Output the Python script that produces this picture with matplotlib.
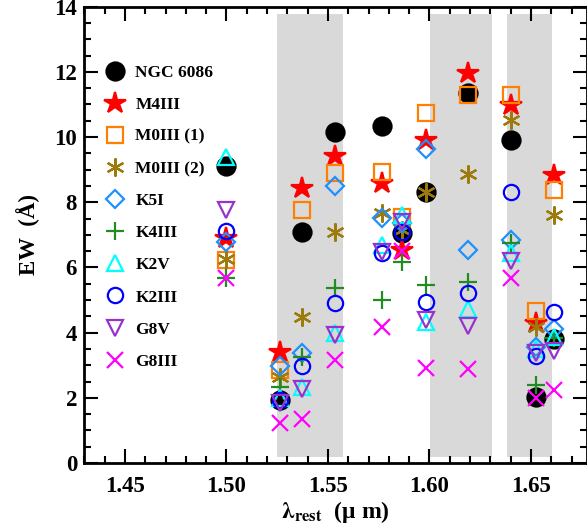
import matplotlib
matplotlib.use('Agg')
import matplotlib.pyplot as plt
from matplotlib.ticker import MultipleLocator

plt.rcParams['font.family'] = 'Liberation Serif'
plt.rcParams['font.weight'] = 'bold'
plt.rcParams['axes.labelweight'] = 'bold'
plt.rcParams['mathtext.fontset'] = 'stix'

# wavelength of each index (micron)
wave = [1.500, 1.5264, 1.5373, 1.5534, 1.5765, 1.5863, 1.5981, 1.6191, 1.6401, 1.6525, 1.6613]

ngc6086 = [9.12, 1.93, 7.10, 10.15, 10.34, 7.05, 8.30, 11.36, 9.91, 2.04, 3.79]
m4iii = [6.89, 3.42, 8.43, 9.42, 8.58, 6.52, 9.91, 11.97, 10.98, 4.30, 8.83]
m0iii_1 = [6.23, 2.85, 7.76, 8.91, 8.94, 7.55, 10.73, 11.29, 11.29, 4.67, 8.37]
m0iii_2 = [6.25, 2.65, 4.49, 7.10, 7.66, 7.15, 8.32, 8.87, 10.52, 4.18, 7.61]
k5i = [6.77, 2.98, 3.36, 8.50, 7.51, 7.35, 9.63, 6.53, 6.84, 3.55, 4.12]
k4iii = [5.67, 2.34, 3.26, 5.36, 5.00, 6.18, 5.46, 5.56, 6.76, 2.39, 3.85]
k2v = [9.38, 2.00, 2.32, 4.00, 6.69, 7.61, 4.33, 4.74, 6.43, 3.50, 3.87]
k2iii = [7.12, 1.93, 2.98, 4.92, 6.43, 7.10, 4.95, 5.22, 8.32, 3.27, 4.64]
g8v = [7.76, 1.84, 2.26, 3.93, 6.48, 7.40, 4.39, 4.20, 6.21, 3.39, 3.44]
g8iii = [5.67, 1.24, 1.34, 3.16, 4.18, 6.51, 2.90, 2.87, 5.67, 1.99, 2.24]

# shaded wavelength windows
bands = [(1.5249, 1.5574), (1.6002, 1.6306), (1.6382, 1.6602)]
band_lo, band_hi = 0.17, 13.77

series = [
    ('NGC 6086', ngc6086, 'o', 'black', True, 13),
    ('M4III', m4iii, '*', 'red', True, 16),
    ('M0III (1)', m0iii_1, 's', '#FF7F00', False, 11),
    ('M0III (2)', m0iii_2, (6, 2, 0), '#9C7A0C', False, 13),
    ('K5I', k5i, 'D', '#1E90FF', False, 9),
    ('K4III', k4iii, '+', '#228B22', False, 13),
    ('K2V', k2v, '^', '#00FFFF', False, 12),
    ('K2III', k2iii, 'o', '#0000FF', False, 11),
    ('G8V', g8v, 'v', '#9932CC', False, 12),
    ('G8III', g8iii, 'x', '#FF00FF', False, 11),
]

fig = plt.figure(figsize=(5.87, 5.29), dpi=100)
ax = fig.add_axes([84 / 587, 66 / 529, 503 / 587, 456.3 / 529])

for x0, x1 in bands:
    ax.fill_between([x0, x1], band_lo, band_hi, color='#D9D9D9', lw=0, zorder=0)

for name, vals, mk, col, filled, ms in series:
    ax.plot(wave, vals, ls='none', marker=mk, ms=ms, mew=1.6,
            mec=col, mfc=col if filled else 'none', label=name, zorder=3)

ax.set_xlim(1.4298, 1.6776)
ax.set_ylim(0, 14)
ax.xaxis.set_major_locator(MultipleLocator(0.05))
ax.xaxis.set_minor_locator(MultipleLocator(0.01))
ax.yaxis.set_major_locator(MultipleLocator(2))
ax.yaxis.set_minor_locator(MultipleLocator(0.5))
ax.xaxis.set_major_formatter(plt.FormatStrFormatter('%.2f'))
ax.tick_params(which='both', direction='in', top=True, right=True, width=1.5)
ax.tick_params(which='major', length=10, labelsize=16.5)
ax.tick_params(which='minor', length=5)
ax.tick_params(axis='x', pad=9)
ax.tick_params(axis='y', pad=5)
for s in ax.spines.values():
    s.set_linewidth(2)

ax.set_xlabel(r'$\mathrm{\lambda}_{\mathbf{rest}}$  (μ m)', fontsize=17, labelpad=2)
ax.set_ylabel('EW  (Å)', fontsize=16.5, labelpad=10)

ax.legend(loc='upper left', bbox_to_anchor=(0.016, 0.9), frameon=False, numpoints=1,
          fontsize=12.5, handlelength=1.2, handletextpad=0.6, labelspacing=0.92,
          borderaxespad=0.3)

plt.savefig('out.png', dpi=100)
